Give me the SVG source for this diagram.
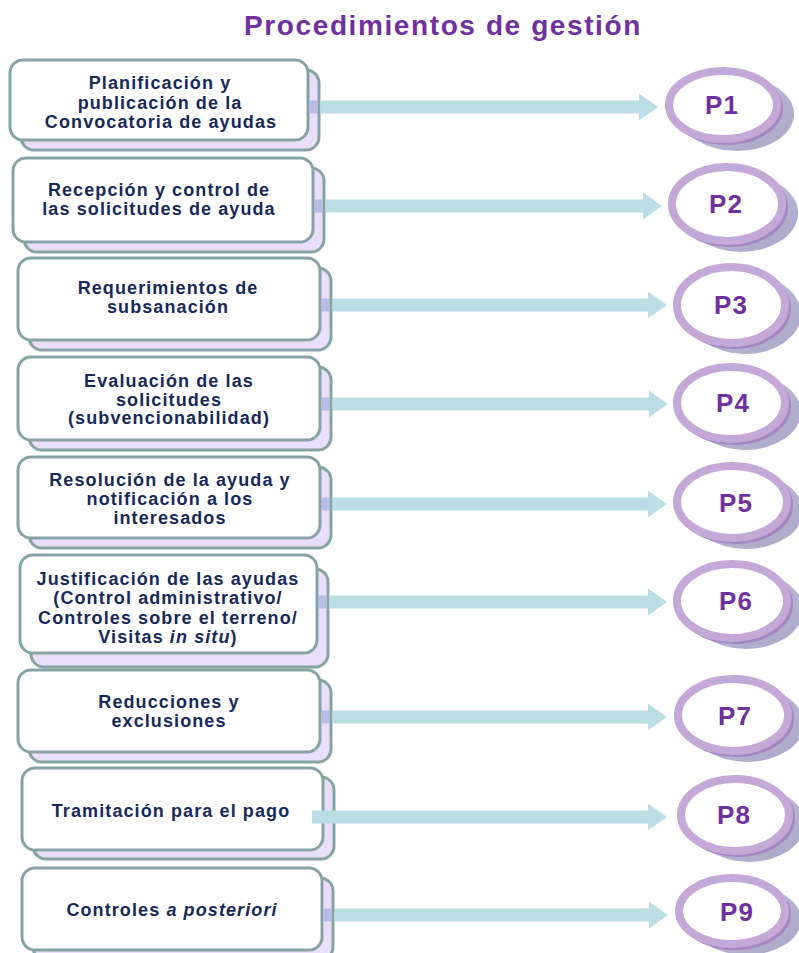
<svg xmlns="http://www.w3.org/2000/svg" width="799" height="953" viewBox="0 0 799 953">
<defs>
<linearGradient id="sh" x1="0" y1="0" x2="1" y2="1">
<stop offset="0" stop-color="#d6d3e6"/>
<stop offset="0.6" stop-color="#b5b2d0"/>
<stop offset="1" stop-color="#a9a6c7"/>
</linearGradient>
<style>
.title{font-family:"Liberation Sans",Arial,sans-serif;font-weight:bold;font-size:28px;letter-spacing:1.6px;fill:#7030a0;text-anchor:middle}
.back{fill:#d9c4f7;fill-opacity:0.55;stroke:#86a3a3;stroke-width:3}
.front{fill:#ffffff;stroke:#86a3a3;stroke-width:3}
.lbl{font-family:"Liberation Sans",Arial,sans-serif;font-weight:bold;font-size:18px;letter-spacing:1.1px;fill:#16295b;text-anchor:middle}
.it{font-style:italic}
.arrow{fill:#badee4}
.tint{fill:#b6bce6}
.shadow{fill:url(#sh)}
.dark{fill:none;stroke:#a386c2;stroke-width:6}
.ring{fill:#ffffff;stroke:#c4a8d8;stroke-width:8}
.pl{font-family:"Liberation Sans",Arial,sans-serif;font-weight:bold;font-size:26px;letter-spacing:1px;fill:#7030a0;text-anchor:middle}
</style>
</defs>
<rect width="799" height="953" fill="#ffffff"/>
<text class="title" x="443" y="35">Procedimientos de gestión</text>

<g id="n1">
<rect class="back" x="21" y="70" width="298" height="80" rx="13"/>
<rect class="front" x="10" y="60" width="298" height="80" rx="13"/>
<text class="lbl" x="160" y="89">Planificación y</text>
<text class="lbl" x="160" y="108.5">publicación de la</text>
<text class="lbl" x="161" y="128">Convocatoria de ayudas</text>
</g>
<g id="n2">
<rect class="back" x="24" y="168" width="300" height="84" rx="13"/>
<rect class="front" x="13" y="158" width="300" height="84" rx="13"/>
<text class="lbl" x="159" y="196">Recepción y control de</text>
<text class="lbl" x="159" y="215">las solicitudes de ayuda</text>
</g>
<g id="n3">
<rect class="back" x="29" y="268" width="302" height="82" rx="13"/>
<rect class="front" x="18" y="258" width="302" height="82" rx="13"/>
<text class="lbl" x="168" y="294">Requerimientos de</text>
<text class="lbl" x="168" y="313">subsanación</text>
</g>
<g id="n4">
<rect class="back" x="29" y="367" width="302" height="83" rx="13"/>
<rect class="front" x="18" y="357" width="302" height="83" rx="13"/>
<text class="lbl" x="169" y="387">Evaluación de las</text>
<text class="lbl" x="169" y="405.5">solicitudes</text>
<text class="lbl" x="169" y="424">(subvencionabilidad)</text>
</g>
<g id="n5">
<rect class="back" x="29" y="467" width="302" height="81" rx="13"/>
<rect class="front" x="18" y="457" width="302" height="81" rx="13"/>
<text class="lbl" x="170" y="486">Resolución de la ayuda y</text>
<text class="lbl" x="170" y="505">notificación a los</text>
<text class="lbl" x="170" y="524">interesados</text>
</g>
<g id="n6">
<rect class="back" x="31" y="569" width="297" height="98" rx="13"/>
<rect class="front" x="20" y="555" width="297" height="98" rx="13"/>
<text class="lbl" x="168" y="584.5">Justificación de las ayudas</text>
<text class="lbl" x="168" y="604">(Control administrativo/</text>
<text class="lbl" x="168" y="623.5">Controles sobre el terreno/</text>
<text class="lbl" x="168" y="643">Visitas <tspan class="it">in situ</tspan>)</text>
</g>
<g id="n7">
<rect class="back" x="29" y="680" width="302" height="82" rx="13"/>
<rect class="front" x="18" y="670" width="302" height="82" rx="13"/>
<text class="lbl" x="169" y="708">Reducciones y</text>
<text class="lbl" x="169" y="726.5">exclusiones</text>
</g>
<g id="n8">
<rect class="back" x="33" y="777" width="301" height="82" rx="13"/>
<rect class="front" x="22" y="768" width="301" height="82" rx="13"/>
<text class="lbl" x="171" y="817">Tramitación para el pago</text>
</g>
<g id="n9">
<rect class="back" x="33" y="878" width="300" height="82" rx="13"/>
<rect class="front" x="22" y="868" width="300" height="82" rx="13"/>
<text class="lbl" x="172" y="916">Controles <tspan class="it">a posteriori</tspan></text>
</g>

<g id="p1">
<ellipse class="shadow" cx="737" cy="114" rx="57" ry="37"/>
<ellipse class="dark" cx="726" cy="108" rx="54" ry="34"/>
<ellipse class="ring" cx="723" cy="105" rx="54" ry="34"/>
<text class="pl" x="722" y="114">P1</text>
</g>
<g id="p2">
<ellipse class="shadow" cx="741" cy="213" rx="57" ry="39"/>
<ellipse class="dark" cx="730" cy="207" rx="55" ry="37"/>
<ellipse class="ring" cx="727" cy="204" rx="55" ry="37"/>
<text class="pl" x="726" y="213">P2</text>
</g>
<g id="p3">
<ellipse class="shadow" cx="745" cy="314" rx="56" ry="40"/>
<ellipse class="dark" cx="734" cy="308" rx="54" ry="38"/>
<ellipse class="ring" cx="731" cy="305" rx="54" ry="38"/>
<text class="pl" x="731" y="314">P3</text>
</g>
<g id="p4">
<ellipse class="shadow" cx="745" cy="412" rx="56" ry="38"/>
<ellipse class="dark" cx="734" cy="406" rx="54" ry="36"/>
<ellipse class="ring" cx="731" cy="403" rx="54" ry="36"/>
<text class="pl" x="733" y="412">P4</text>
</g>
<g id="p5">
<ellipse class="shadow" cx="746" cy="511" rx="57" ry="38"/>
<ellipse class="dark" cx="735" cy="505" rx="55" ry="36"/>
<ellipse class="ring" cx="732" cy="502" rx="55" ry="36"/>
<text class="pl" x="736" y="512">P5</text>
</g>
<g id="p6">
<ellipse class="shadow" cx="746" cy="610" rx="57" ry="39"/>
<ellipse class="dark" cx="735" cy="604" rx="55" ry="37"/>
<ellipse class="ring" cx="732" cy="601" rx="55" ry="37"/>
<text class="pl" x="736" y="610">P6</text>
</g>
<g id="p7">
<ellipse class="shadow" cx="747" cy="724" rx="57" ry="38"/>
<ellipse class="dark" cx="736" cy="718" rx="55" ry="36"/>
<ellipse class="ring" cx="733" cy="715" rx="55" ry="36"/>
<text class="pl" x="735" y="725">P7</text>
</g>
<g id="p8">
<ellipse class="shadow" cx="749" cy="824" rx="56" ry="38"/>
<ellipse class="dark" cx="738" cy="818" rx="54" ry="36"/>
<ellipse class="ring" cx="735" cy="815" rx="54" ry="36"/>
<text class="pl" x="734" y="824">P8</text>
</g>
<g id="p9">
<ellipse class="shadow" cx="746" cy="920" rx="55" ry="35"/>
<ellipse class="dark" cx="735" cy="914" rx="53" ry="33"/>
<ellipse class="ring" cx="732" cy="911" rx="53" ry="33"/>
<text class="pl" x="737" y="921">P9</text>
</g>

<g id="connectors">
<rect class="tint" x="309.5" y="100.5" width="8" height="13"/>
<path class="arrow" d="M320.5 100.5H639V93.5L658 107L639 120.5V113.5H320.5Z"/>
<rect class="tint" x="314.5" y="199.5" width="8" height="13"/>
<path class="arrow" d="M325.5 199.5H643V192.5L662 206L643 219.5V212.5H325.5Z"/>
<rect class="tint" x="321.5" y="298.5" width="8" height="13"/>
<path class="arrow" d="M332.5 298.5H648V291.5L667 305L648 318.5V311.5H332.5Z"/>
<rect class="tint" x="321.5" y="397.5" width="8" height="13"/>
<path class="arrow" d="M332.5 397.5H649V390.5L668 404L649 417.5V410.5H332.5Z"/>
<rect class="tint" x="321.5" y="497.5" width="8" height="13"/>
<path class="arrow" d="M332.5 497.5H648V490.5L667 504L648 517.5V510.5H332.5Z"/>
<rect class="tint" x="318.5" y="595.5" width="8" height="13"/>
<path class="arrow" d="M329.5 595.5H648V588.5L667 602L648 615.5V608.5H329.5Z"/>
<rect class="tint" x="321.5" y="710.5" width="8" height="13"/>
<path class="arrow" d="M332.5 710.5H648V703.5L667 717L648 730.5V723.5H332.5Z"/>
<path class="arrow" d="M312 810.5H648V803.5L667 817L648 830.5V823.5H312Z"/>
<rect class="tint" x="323.5" y="908.5" width="8" height="13"/>
<path class="arrow" d="M334.5 908.5H649V901.5L668 915L649 928.5V921.5H334.5Z"/>
</g>
</svg>
